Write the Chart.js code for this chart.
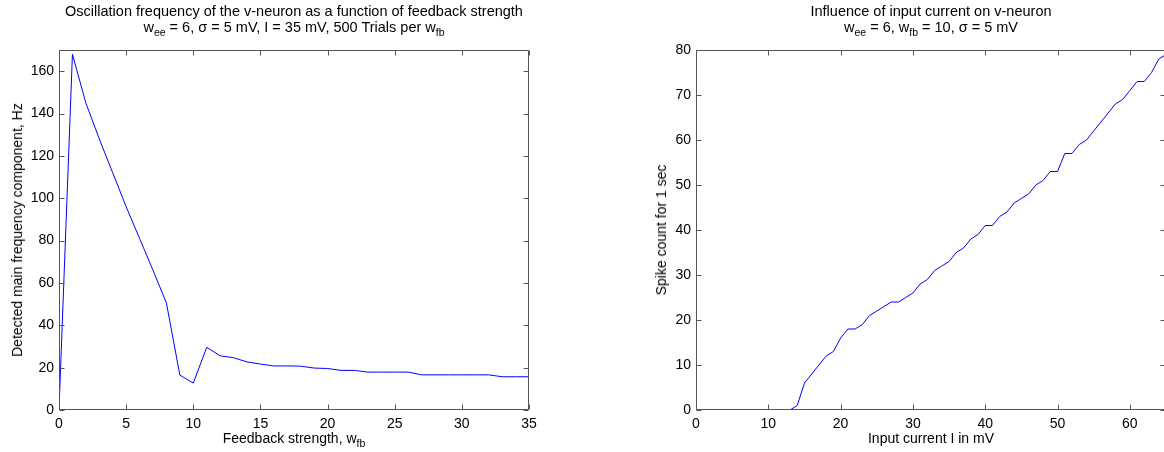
<!DOCTYPE html>
<html lang="en">
<head>
    <meta charset="UTF-8">
    <title>v-neuron oscillation</title>
    <script src="https://cdn.jsdelivr.net/npm/chart.js"></script>
    <style>
        body {
            margin: 0;
            width: 1164px;
            height: 452px;
            overflow: hidden;
            background: #fff;
            position: relative;
            font-family: "Liberation Sans", Arial, sans-serif;
            font-size: 14px;
            color: #000;
        }
        .box { position: absolute; top: 0; height: 452px; }
        .title {
            position: absolute;
            top: 3px;
            font-size: 14.5px;
            text-align: center;
            line-height: 16px;
            white-space: nowrap;
            transform: translateX(-50%);
        }
        .xlabel {
            position: absolute;
            top: 430px;
            white-space: nowrap;
            transform: translateX(-50%);
        }
        .ylabel {
            position: absolute;
            white-space: nowrap;
            transform: translate(-50%, -50%) rotate(-90deg);
        }
        sub { font-size: 10.5px; vertical-align: -4px; line-height: 0; }
    </style>
</head>
<body>
    <div class="box" style="left:0; width:582px;"><canvas id="freqChart"></canvas></div>
    <div class="box" style="left:637px; width:529px;"><canvas id="spikeChart"></canvas></div>

    <div class="title" style="left:294px;">Oscillation frequency of the v-neuron as a function of feedback strength<br>w<sub>ee</sub> = 6, &sigma; = 5 mV, I = 35 mV, 500 Trials per w<sub>fb</sub></div>
    <div class="title" style="left:931px;">Influence of input current on v-neuron<br>w<sub>ee</sub> = 6, w<sub>fb</sub> = 10, &sigma; = 5 mV</div>
    <div class="xlabel" style="left:294px;">Feedback strength, w<sub>fb</sub></div>
    <div class="xlabel" style="left:931px;">Input current I in mV</div>
    <div class="ylabel" style="left:17px; top:230px;">Detected main frequency component, Hz</div>
    <div class="ylabel" style="left:661px; top:230px;">Spike count for 1 sec</div>

    <script>
        // left panel: frequency vs feedback strength
        const feedbackStrength = [0, 1, 2, 3, 4, 5, 6, 7, 8, 9, 10, 11, 12, 13, 14, 15, 16, 17, 18,
            19, 20, 21, 22, 23, 24, 25, 26, 27, 28, 29, 30, 31, 32, 33, 34, 35];
        const mainFrequency = [0, 168, 145, 128, 112, 96, 81, 66, 50.5, 16.5, 12.7, 29.6, 25.6, 24.7, 22.7, 21.7, 20.8, 20.8, 20.7,
            19.8, 19.6, 18.7, 18.7, 17.9, 17.9, 17.9, 17.9, 16.6, 16.6, 16.6, 16.6, 16.6, 16.6, 15.7, 15.7, 15.7];
        const freqXTicks = [0, 5, 10, 15, 20, 25, 30, 35];
        const freqYTicks = [0, 20, 40, 60, 80, 100, 120, 140, 160];

        // right panel: spike count vs input current
        const inputCurrent = [];
        for (let i = 0; i <= 65; i++) inputCurrent.push(i);
        const spikeCount = [0, 0, 0, 0, 0, 0, 0, 0, 0, 0, 0, 0, 0, 0, 1, 6, 8, 10, 12, 13,
            16, 18, 18, 19, 21, 22, 23, 24, 24, 25, 26, 28, 29, 31, 32, 33, 35, 36, 38, 39,
            41, 41, 43, 44, 46, 47, 48, 50, 51, 53, 53, 57, 57, 59, 60, 62, 64, 66, 68, 69,
            71, 73, 73, 75, 78, 79];
        const spikeXTicks = [0, 10, 20, 30, 40, 50, 60];
        const spikeYTicks = [0, 10, 20, 30, 40, 50, 60, 70, 80];

        // MATLAB style box with inward ticks
        const boxPlugin = {
            id: 'box',
            afterDraw(chart) {
                const ctx = chart.ctx;
                const a = chart.chartArea;
                const xs = chart.scales.x, ys = chart.scales.y;
                const L = Math.round(a.left) + 0.5, R = Math.round(a.right) - 0.5;
                const T = Math.round(a.top) + 0.5, B = Math.round(a.bottom) - 0.5;
                ctx.save();
                ctx.strokeStyle = '#555';
                ctx.lineWidth = 1;
                ctx.beginPath();
                ctx.rect(L, T, R - L, B - T);
                xs.ticks.forEach(t => {
                    const p = Math.round(xs.getPixelForValue(t.value)) + 0.5;
                    ctx.moveTo(p, B); ctx.lineTo(p, B - 5);
                    ctx.moveTo(p, T); ctx.lineTo(p, T + 5);
                });
                ys.ticks.forEach(t => {
                    const p = Math.round(ys.getPixelForValue(t.value)) + 0.5;
                    ctx.moveTo(L, p); ctx.lineTo(L + 5, p);
                    ctx.moveTo(R, p); ctx.lineTo(R - 5, p);
                });
                ctx.stroke();
                ctx.restore();
            }
        };

        const font = { family: '"Liberation Sans", Arial, sans-serif', size: 14 };

        function makeChart(id, xs, ys, xMax, yMax, xTicks, yTicks, padRight) {
            return new Chart(document.getElementById(id), {
                type: 'line',
                data: {
                    datasets: [{
                        data: xs.map((x, i) => ({ x: x, y: ys[i] })),
                        borderColor: '#0000ff',
                        borderWidth: 1,
                        pointRadius: 0,
                        tension: 0,
                        fill: false
                    }]
                },
                options: {
                    responsive: true,
                    maintainAspectRatio: false,
                    animation: false,
                    layout: { padding: { top: 50, right: padRight, left: 0, bottom: 0 } },
                    plugins: { legend: { display: false }, tooltip: { enabled: false } },
                    scales: {
                        x: {
                            type: 'linear', min: 0, max: xMax,
                            grid: { display: false, drawTicks: false }, border: { display: false },
                            afterBuildTicks: s => { s.ticks = xTicks.map(v => ({ value: v })); },
                            afterFit: s => { s.height = 42; },
                            ticks: { font: font, color: '#000', padding: 6, maxRotation: 0 }
                        },
                        y: {
                            min: 0, max: yMax,
                            grid: { display: false, drawTicks: false }, border: { display: false },
                            afterBuildTicks: s => { s.ticks = yTicks.map(v => ({ value: v })); },
                            afterFit: s => { s.width = 59; },
                            ticks: { font: font, color: '#000', padding: 5 }
                        }
                    }
                },
                plugins: [boxPlugin]
            });
        }

        makeChart('freqChart', feedbackStrength, mainFrequency, 35, 170, freqXTicks, freqYTicks, 53);
        makeChart('spikeChart', inputCurrent, spikeCount, 65, 80, spikeXTicks, spikeYTicks, 0);
    </script>
</body>
</html>
